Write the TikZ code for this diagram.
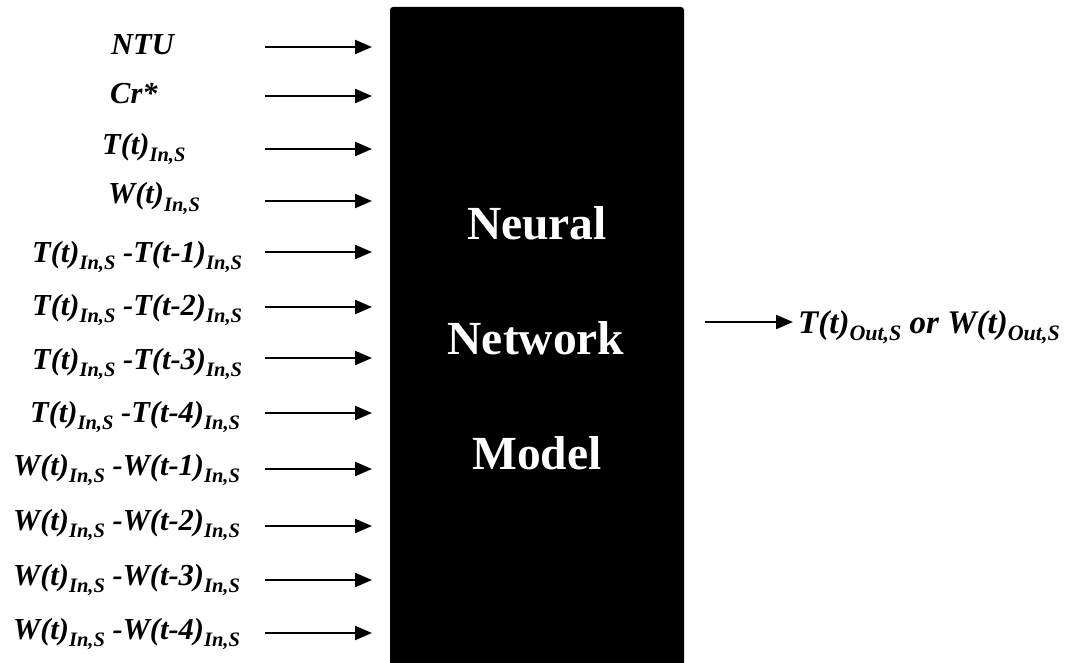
\documentclass[tikz,border=0pt]{standalone}
\usepackage{fontspec}
\setmainfont{Liberation Serif}
\usetikzlibrary{arrows.meta}
\newcommand{\sbs}[1]{\raisebox{-7pt}{\fontsize{20.5}{20}\selectfont #1}}
\newcommand{\sbo}[1]{\raisebox{-7.5pt}{\fontsize{22}{22}\selectfont #1}}
\tikzset{
  lbl/.style={anchor=base west, inner sep=0pt, font=\fontsize{30.5}{36}\selectfont\bfseries\itshape},
  outlbl/.style={anchor=base west, inner sep=0pt, font=\fontsize{33}{38}\selectfont\bfseries\itshape},
  inarrow/.style={line width=2.2pt, -{Triangle[length=17pt,width=14pt]}},
  boxtext/.style={anchor=base, inner sep=0pt, text=white, font=\fontsize{47.5}{52}\selectfont\bfseries},
}
\begin{document}
\begin{tikzpicture}[x=1pt,y=-1pt]
\useasboundingbox (0,0) rectangle (1075,663);
\fill[black, rounded corners=3pt] (390,7) rectangle (684,680);
\node[boxtext] (n1) at (537,239) {Neural};
\node[boxtext] (n2) at (536,354) {Network};
\node[boxtext] (n3) at (537,469) {Model};

\node[lbl] (l1) at (111,55) {NTU};
\node[lbl] (l2) at (110,104) {Cr*};
\node[lbl] (l3) at (102,155) {T(t)\sbs{In,S}};
\node[lbl] (l4) at (108,204) {W(t)\sbs{In,S}};
\node[lbl] (l5) at (32,262) {T(t)\sbs{In,S} -T(t-1)\sbs{In,S}};
\node[lbl] (l6) at (32,315) {T(t)\sbs{In,S} -T(t-2)\sbs{In,S}};
\node[lbl] (l7) at (32,369) {T(t)\sbs{In,S} -T(t-3)\sbs{In,S}};
\node[lbl] (l8) at (30,422) {T(t)\sbs{In,S} -T(t-4)\sbs{In,S}};
\node[lbl] (l9) at (13,475) {W(t)\sbs{In,S} -W(t-1)\sbs{In,S}};
\node[lbl] (l10) at (13,530) {W(t)\sbs{In,S} -W(t-2)\sbs{In,S}};
\node[lbl] (l11) at (13,585) {W(t)\sbs{In,S} -W(t-3)\sbs{In,S}};
\node[lbl] (l12) at (13,639) {W(t)\sbs{In,S} -W(t-4)\sbs{In,S}};

\foreach \i/\y in {1/47,2/96,3/149,4/201,5/252,6/307,7/358,8/413,9/469,10/526,11/580,12/633}{
  \coordinate (s\i) at (265,\y);
  \coordinate (e\i) at (372,\y);
  \draw[inarrow] (s\i) -- (e\i);
}

\coordinate (os) at (705,322);
\coordinate (oe) at (793,322);
\draw[inarrow] (os) -- (oe);
\node[outlbl] (out) at (798,333) {T(t)\sbo{Out,S} or W(t)\sbo{Out,S}};
\end{tikzpicture}
\end{document}
